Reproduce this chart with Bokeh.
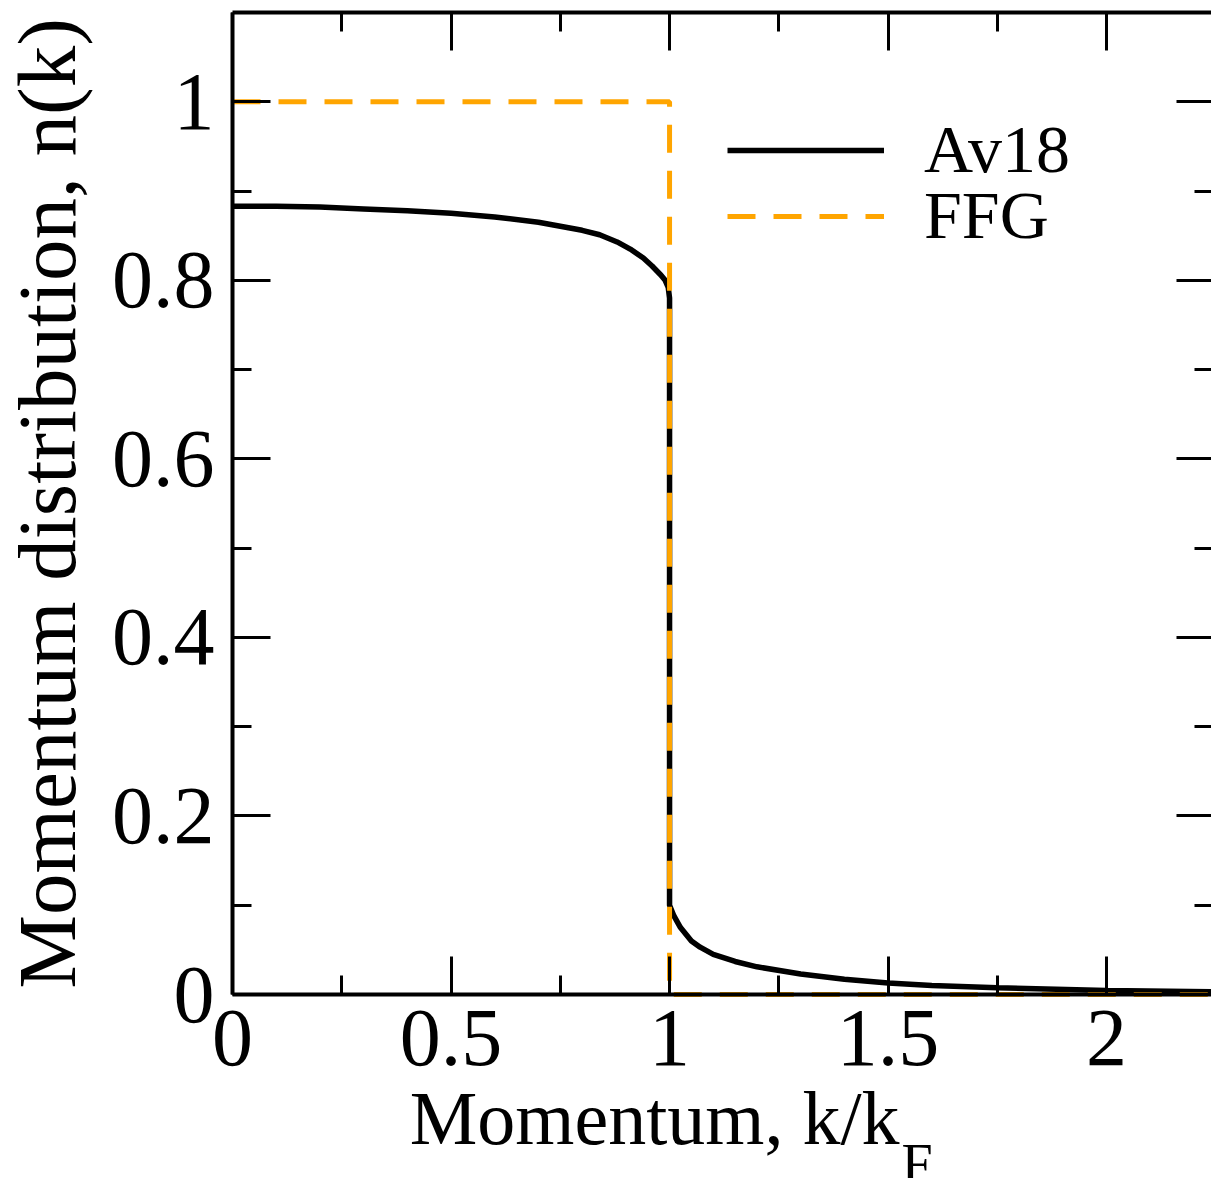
from bokeh.plotting import figure
from bokeh.models import Range1d, LinearAxis, FixedTicker, Label, Legend, LegendItem
from bokeh.embed import file_html
from bokeh.resources import INLINE

# ---- data ----
k_av18 = [0.0, 0.1, 0.2, 0.3, 0.4, 0.5, 0.6, 0.7, 0.8, 0.84, 0.88, 0.91, 0.94, 0.96, 0.98, 0.99, 0.997, 1.0,
          1.0, 1.01, 1.025, 1.05, 1.07, 1.1, 1.15, 1.2, 1.3, 1.4, 1.5, 1.6, 1.75, 2.0, 2.24]
n_av18 = [0.883, 0.883, 0.882, 0.880, 0.878, 0.875, 0.871, 0.865, 0.856, 0.851, 0.843, 0.835, 0.825, 0.816, 0.806, 0.800, 0.792, 0.780,
          0.100, 0.088, 0.075, 0.060, 0.053, 0.045, 0.037, 0.031, 0.023, 0.017, 0.013, 0.010, 0.0075, 0.0045, 0.003]
k_ffg = [0.0, 1.0, 1.0, 2.24]
n_ffg = [1.0, 1.0, 0.0, 0.0]

x_ticks = [0, 0.5, 1, 1.5, 2]
x_tick_labels = ["0", "0.5", "1", "1.5", "2"]
x_minor = [0.25, 0.75, 1.25, 1.75]
y_ticks = [0, 0.2, 0.4, 0.6, 0.8, 1.0]
y_tick_labels = ["0", "0.2", "0.4", "0.6", "0.8", "1"]
y_minor = [0.1, 0.3, 0.5, 0.7, 0.9]
x_lim = (0, 2.24)
y_lim = (0, 1.1)

series_names = ["Av18", "FFG"]
x_label = "Momentum, k/k"
x_label_sub = "F"
y_label = "Momentum distribution, n(k)"

FONT = "Liberation Serif"
W, H = 1211, 1178
FL, FB, FT = 232, 994, 12          # pixel positions of x=0, y=0 and the top frame line
px_x = (W - FL) / (x_lim[1] - x_lim[0])
px_y = (FB - FT) / (y_lim[1] - y_lim[0])

p = figure(width=W, height=H,
           x_range=Range1d(x_lim[0] - FL / px_x, x_lim[1]),
           y_range=Range1d(y_lim[0] - (H - FB) / px_y, y_lim[1] + FT / px_y),
           output_backend="svg", toolbar_location=None,
           min_border=0, x_axis_location=None, y_axis_location=None)
p.outline_line_color = None
p.grid.visible = False
p.background_fill_color = "white"
p.border_fill_color = "white"

r1 = p.line(k_av18, n_av18, line_color="black", line_width=5.5)
r2 = p.line(k_ffg, n_ffg, line_color="#FFA500", line_width=5, line_dash="28 18")


def make_axis(fixed, bounds, ticks, minors, labels, tick_in, show_labels, show_line=True):
    ax = LinearAxis(fixed_location=fixed, bounds=bounds)
    ax.ticker = FixedTicker(ticks=ticks, minor_ticks=minors)
    ax.major_tick_in = tick_in
    ax.major_tick_out = 0
    ax.minor_tick_in = tick_in // 2
    ax.minor_tick_out = 0
    ax.major_tick_line_width = 3
    ax.minor_tick_line_width = 3
    ax.major_tick_line_color = "black"
    ax.minor_tick_line_color = "black"
    ax.axis_line_width = 4
    ax.axis_line_color = "black" if show_line else None
    if show_labels:
        ax.major_label_overrides = {t: l for t, l in zip(ticks, labels)}
        ax.major_label_text_font = FONT
        ax.major_label_text_font_size = "82px"
        ax.major_label_text_color = "black"
    else:
        ax.major_label_text_font_size = "0px"
        ax.major_label_text_color = None
        ax.major_label_standoff = 0
    return ax


xb = make_axis(y_lim[0], x_lim, x_ticks, x_minor, x_tick_labels, 38, True)
xb.major_label_standoff = 16
p.add_layout(xb, "below")

yl = make_axis(x_lim[0], y_lim, y_ticks, y_minor, y_tick_labels, 38, True)
yl.major_label_standoff = 18
yl.axis_label = y_label
yl.axis_label_text_font = FONT
yl.axis_label_text_font_size = "83px"
yl.axis_label_text_font_style = "normal"
yl.axis_label_text_color = "black"
yl.axis_label_standoff = 16
p.add_layout(yl, "left")

xt = make_axis(y_lim[1], x_lim, x_ticks, x_minor, x_tick_labels, 38, False)
p.add_layout(xt, "above")
yr = make_axis(x_lim[1], y_lim, y_ticks, y_minor, y_tick_labels, 35, False, show_line=False)
p.add_layout(yr, "right")

# x axis title with subscript (screen units from the canvas bottom-left)
p.add_layout(Label(x=899, y=H - 1145 + 28, x_units="screen", y_units="screen", text=x_label,
                   text_align="right", text_baseline="alphabetic", text_font=FONT,
                   text_font_size="76px", text_color="black"))
p.add_layout(Label(x=901, y=H - 1189 + 26, x_units="screen", y_units="screen", text=x_label_sub,
                   text_align="left", text_baseline="alphabetic", text_font=FONT,
                   text_font_size="56px", text_color="black"))

# legends (one per row for exact spacing)
for name, rend, vy in [(series_names[0], r1, H - 189), (series_names[1], r2, H - 255)]:
    lg = Legend(items=[LegendItem(label=name, renderers=[rend])], location=(727, vy),
                glyph_width=157, glyph_height=66, label_height=66, label_standoff=40,
                label_text_font=FONT, label_text_font_size="68px", label_text_color="black",
                padding=0, margin=0, spacing=0, border_line_color=None,
                background_fill_alpha=0)
    p.add_layout(lg)

open("out.html", "w").write(file_html(p, INLINE))
